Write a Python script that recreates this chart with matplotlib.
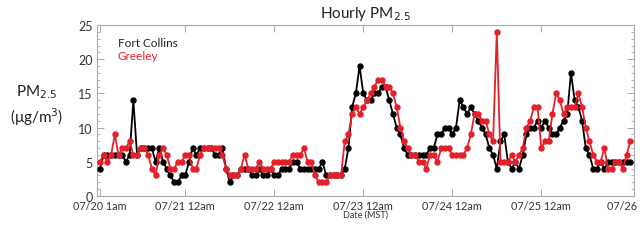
import matplotlib
matplotlib.use('agg')
import matplotlib.pyplot as plt
from matplotlib.ticker import MultipleLocator
import numpy as np

plt.rcParams['font.family'] = ['Lato', 'DejaVu Sans']

# hourly PM2.5, starting 07/20 1am (MST)
fort_collins = [
    4, 6, 6, 6, 6, 6, 6, 5, 6, 14,
    6, 7, 7, 7, 7, 5, 7, 5, 4, 3,
    2, 2, 3, 3, 5, 7, 6, 7, 7, 7,
    7, 6, 6, 7, 4, 2, 3, 3, 4, 4,
    4, 3, 3, 4, 3, 3, 4, 3, 3, 4,
    4, 4, 5, 5, 4, 4, 4, 4, 4, 4,
    5, 3, 3, 3, 3, 3, 4, 7, 13, 15,
    19, 15, 14, 14, 15, 15, 16, 16, 14, 12,
    10, 9, 7, 6, 6, 6, 6, 6, 6, 7,
    7, 9, 9, 10, 10, 9, 10, 14, 13, 12,
    13, 12, 11, 10, 9, 7, 6, 4, 8, 9,
    5, 4, 5, 4, 6, 9, 10, 10, 11, 10,
    11, 10, 9, 9, 10, 11, 12, 18, 14, 13,
    11, 7, 6, 4, 4, 5, 4, 5, 5, 5,
    5, 5, 5, 5]

greeley = [
    5, 6, 5, 6, 9, 6, 7, 7, 8, 6,
    6, 7, 7, 6, 4, 3, 6, 7, 6, 4,
    4, 5, 5, 6, 6, 4, 4, 6, 7, 7,
    7, 7, 7, 6, 4, 3, 3, 3, 4, 6,
    4, 4, 4, 5, 4, 4, 4, 5, 5, 5,
    5, 5, 6, 6, 6, 7, 5, 5, 3, 2,
    2, 2, 3, 3, 3, 3, 8, 9, 12, 13,
    12, 13, 14, 15, 16, 17, 17, 16, 16, 15,
    13, 10, 8, 7, 6, 6, 5, 5, 4, 6,
    6, 5, 7, 7, 7, 6, 6, 6, 6, 7,
    9, 12, 12, 11, 11, 9, 8, 24, 5, 5,
    5, 6, 5, 6, 7, 10, 11, 13, 13, 7,
    8, 8, 12, 15, 14, 12, 13, 13, 13, 15,
    13, 10, 8, 6, 5, 5, 7, 4, 4, 5,
    5, 4, 6, 8]

tick_hours = [0, 23, 47, 71, 95, 119, 144]
tick_labels = ['07/20 1am', '07/21 12am', '07/22 12am', '07/23 12am',
               '07/24 12am', '07/25 12am', '07/26 1am']

RED = '#e5202a'
FRAME = '#a8a8a8'

hours = np.arange(len(fort_collins))

fig = plt.figure(figsize=(6.4, 2.53), dpi=100)
ax = fig.add_axes([97/640, 1 - 197/253, 537/640, 171/253])

ax.plot(hours, fort_collins, color='black', lw=1.3, marker='o', ms=3.6, zorder=3)
ax.plot(hours, greeley, color=RED, lw=1.3, marker='o', ms=3.6, zorder=4)

ax.set_xlim(-0.8, 144)
ax.set_ylim(0, 25)
ax.set_xticks(tick_hours)
ax.set_xticklabels(tick_labels)
ax.yaxis.set_major_locator(MultipleLocator(5))
ax.yaxis.set_minor_locator(MultipleLocator(1))

for s in ax.spines.values():
    s.set_color(FRAME)
    s.set_linewidth(0.8)
ax.tick_params(which='both', direction='in', top=True, right=True, color=FRAME)
ax.tick_params(which='major', length=5, width=0.7)
ax.tick_params(which='minor', length=2.5, width=0.6)
ax.tick_params(axis='x', labelsize=7.8, pad=3, labelcolor='#333333')
ax.tick_params(axis='y', labelsize=9, pad=3, labelcolor='#333333')

ax.set_title('Hourly PM$_{2.5}$', fontsize=11, pad=6, color='#222222')
ax.set_xlabel('Date (MST)', fontsize=6.5, labelpad=-1, color='#333333')
fig.text(37/640, 1 - 106/253, 'PM$_{2.5}$\n(\u03bcg/m$^3$)', ha='center', va='center',
         fontsize=11, color='#222222', linespacing=1.3)

ax.text(0.039, 0.895, 'Fort Collins', transform=ax.transAxes, fontsize=8.5,
        color='#222222', va='center')
ax.text(0.039, 0.82, 'Greeley', transform=ax.transAxes, fontsize=8.5,
        color=RED, va='center')

fig.savefig('out.png', dpi=100)
